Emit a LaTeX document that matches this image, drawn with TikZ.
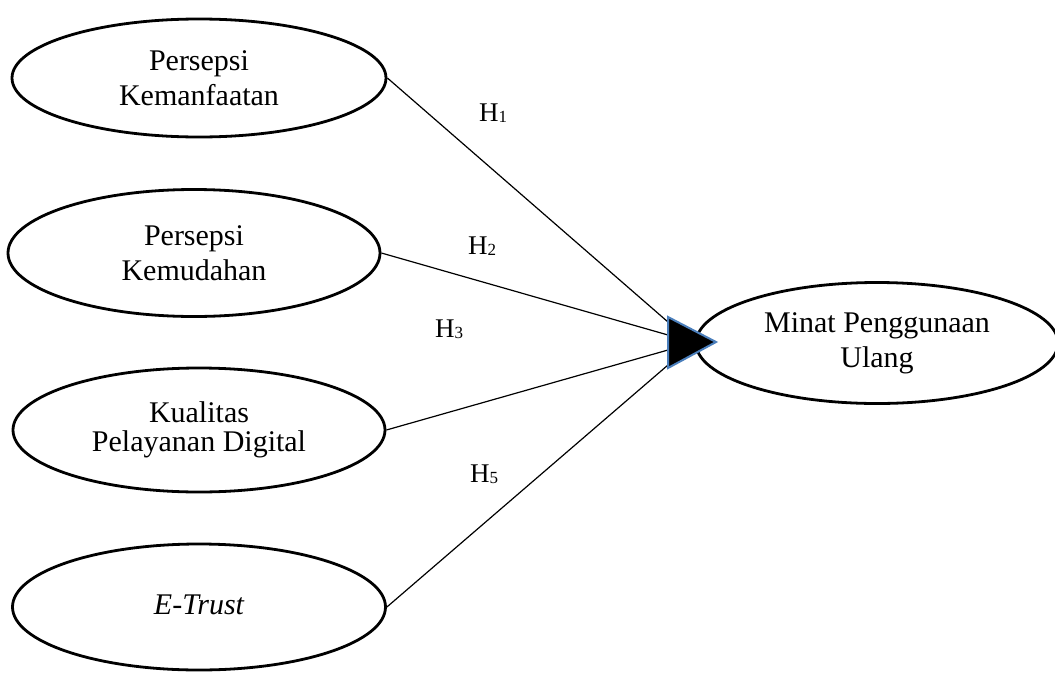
\documentclass[tikz,border=0pt]{standalone}
\usepackage{fontspec}
\setmainfont{Liberation Serif}
\usetikzlibrary{shapes.geometric}
\definecolor{tribord}{RGB}{74,126,187}
\newcommand\hlab[1]{H\raisebox{-1.5pt}{\fontsize{17}{17}\selectfont #1}}
\begin{document}
\begin{tikzpicture}[x=1pt,y=-1pt,
  var/.style={ellipse,draw,line width=2.8pt,inner sep=0pt,align=center,
    font=\fontsize{30}{35}\selectfont},
  link/.style={line width=1.2pt},
  hyp/.style={font=\fontsize{27}{30}\selectfont,inner sep=0pt}]
\useasboundingbox (0,0) rectangle (1055,675);
\node[var,minimum width=374pt,minimum height=118pt] (pk) at (199,78) {Persepsi\\Kemanfaatan};
\node[var,minimum width=372pt,minimum height=127pt] (pm) at (194,253) {Persepsi\\Kemudahan};
\node[var,minimum width=372pt,minimum height=124pt,font=\fontsize{30}{29}\selectfont] (kp) at (199,430) {Kualitas\\Pelayanan Digital};
\node[var,minimum width=373pt,minimum height=126pt] (et) at (199,607) {\raisebox{5pt}{\itshape E-Trust}};
\node[var,minimum width=362pt,minimum height=121pt] (mp) at (877,343) {Minat Penggunaan\\Ulang};
\coordinate (t1) at (668,322);
\coordinate (t2) at (668,335);
\coordinate (t3) at (668,350);
\coordinate (t4) at (668,365);
\draw[link] (pk.east) -- (t1);
\draw[link] (pm.east) -- (t2);
\draw[link] (kp.east) -- (t3);
\draw[link] (et.east) -- (t4);
\coordinate (ta) at (668,317);
\coordinate (tb) at (716,342);
\coordinate (tc) at (668,368);
\filldraw[fill=black,draw=tribord,line width=2pt,line join=miter] (ta) -- (tb) -- (tc) -- cycle;
\node[hyp] (h1) at (493,113) {\hlab{1}};
\node[hyp] (h2) at (482,246) {\hlab{2}};
\node[hyp] (h3) at (449,329) {\hlab{3}};
\node[hyp] (h5) at (484,474) {\hlab{5}};
\end{tikzpicture}
\end{document}
